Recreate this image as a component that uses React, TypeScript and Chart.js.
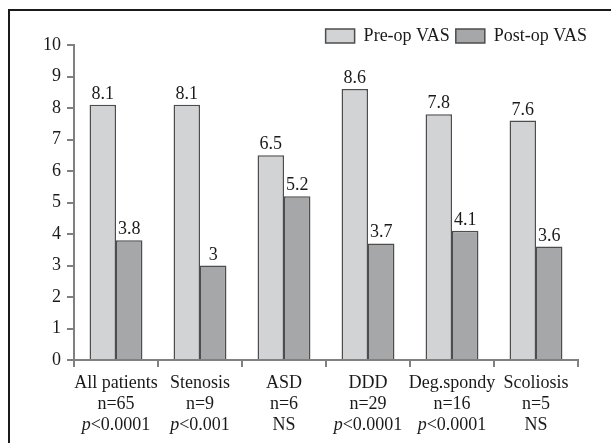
import React, { useEffect, useRef } from 'react';
import { Chart, registerables } from 'chart.js';

Chart.register(...registerables);

const categories = ['All patients', 'Stenosis', 'ASD', 'DDD', 'Deg.spondy', 'Scoliosis'];
const nCounts = ['n=65', 'n=9', 'n=6', 'n=29', 'n=16', 'n=5'];
const pValues = ['p<0.0001', 'p<0.001', 'NS', 'p<0.0001', 'p<0.0001', 'NS'];
const preOpVAS = [8.1, 8.1, 6.5, 8.6, 7.8, 7.6];
const postOpVAS = [3.8, 3.0, 5.2, 3.7, 4.1, 3.6];
const yTicks = [0, 1, 2, 3, 4, 5, 6, 7, 8, 9, 10];

const FONT = '"Liberation Serif", "Times New Roman", serif';
const TEXT = '#1a1a1a';
const AXIS = '#808080';

export default function App() {
  const ref = useRef<HTMLCanvasElement>(null);

  useEffect(() => {
    if (!ref.current) return;

    const valueLabels = {
      id: 'valueLabels',
      afterDatasetsDraw(chart: any) {
        const ctx = chart.ctx;
        ctx.save();
        ctx.font = `18px ${FONT}`;
        ctx.fillStyle = TEXT;
        ctx.textAlign = 'center';
        ctx.textBaseline = 'alphabetic';
        chart.data.datasets.forEach((ds: any, di: number) => {
          const meta = chart.getDatasetMeta(di);
          meta.data.forEach((bar: any, i: number) => {
            ctx.fillText(String(ds.data[i]), bar.x, bar.y - 6);
          });
        });
        ctx.restore();
      },
    };

    const xLabels = {
      id: 'xLabels',
      afterDraw(chart: any) {
        const ctx = chart.ctx;
        const xs = chart.scales.x;
        const normal = `18px ${FONT}`;
        const italic = `italic 18px ${FONT}`;
        ctx.save();
        ctx.fillStyle = TEXT;
        ctx.textBaseline = 'alphabetic';
        categories.forEach((cat, i) => {
          const x = xs.getPixelForValue(i);
          const base = xs.top + 28;
          ctx.font = normal;
          ctx.textAlign = 'center';
          ctx.fillText(cat, x, base);
          ctx.fillText(nCounts[i], x, base + 21);
          const p = pValues[i];
          const y3 = base + 42;
          if (p.startsWith('p')) {
            const rest = p.slice(1);
            ctx.font = italic;
            const wp = ctx.measureText('p').width;
            ctx.font = normal;
            const wr = ctx.measureText(rest).width;
            const start = x - (wp + wr) / 2;
            ctx.textAlign = 'left';
            ctx.font = italic;
            ctx.fillText('p', start, y3);
            ctx.font = normal;
            ctx.fillText(rest, start + wp, y3);
          } else {
            ctx.textAlign = 'center';
            ctx.fillText(p, x, y3);
          }
        });
        ctx.restore();
      },
    };

    const chart = new Chart(ref.current, {
      type: 'bar',
      data: {
        labels: categories,
        datasets: [
          {
            label: 'Pre-op VAS',
            data: preOpVAS,
            backgroundColor: '#d2d3d5',
            borderColor: '#4d4d4f',
            borderWidth: 1.5,
            barPercentage: 1,
            categoryPercentage: 0.63,
          },
          {
            label: 'Post-op VAS',
            data: postOpVAS,
            backgroundColor: '#a6a7a9',
            borderColor: '#4d4d4f',
            borderWidth: 1.5,
            barPercentage: 1,
            categoryPercentage: 0.63,
          },
        ],
      },
      options: {
        responsive: true,
        maintainAspectRatio: false,
        animation: false,
        layout: { padding: { top: 21, right: 18, left: 0, bottom: 0 } },
        plugins: {
          tooltip: { enabled: false },
          legend: {
            position: 'top',
            align: 'end',
            maxHeight: 24,
            labels: {
              boxWidth: 29,
              boxHeight: 14,
              padding: 6,
              color: TEXT,
              font: { family: FONT, size: 18 },
            },
          },
        },
        scales: {
          x: {
            grid: {
              display: true,
              drawOnChartArea: false,
              drawTicks: true,
              tickLength: 7,
              color: AXIS,
              lineWidth: 2,
              offset: true,
            },
            border: { display: true, color: AXIS, width: 2 },
            ticks: { callback: () => '', autoSkip: false },
            afterFit: (s: any) => {
              s.height = 83;
            },
          },
          y: {
            min: 0,
            max: 10,
            grid: {
              display: true,
              drawOnChartArea: false,
              drawTicks: true,
              tickLength: 7,
              color: AXIS,
              lineWidth: 2,
            },
            border: { display: true, color: AXIS, width: 2 },
            afterBuildTicks: (s: any) => {
              s.ticks = yTicks.map((v) => ({ value: v }));
            },
            ticks: {
              padding: 6,
              color: TEXT,
              font: { family: FONT, size: 18 },
            },
            afterFit: (s: any) => {
              s.width = 74;
            },
          },
          yRight: {
            type: 'linear',
            position: 'right',
            display: true,
            grid: { display: false, drawTicks: false },
            border: { display: false },
            ticks: { display: false },
            afterFit: (s: any) => {
              s.width = 15;
            },
          },
        },
      } as any,
      plugins: [valueLabels, xLabels],
    });

    return () => chart.destroy();
  }, []);

  return (
    <>
      <div
        style={{
          position: 'fixed',
          left: 8,
          top: 9,
          width: 700,
          height: 500,
          borderLeft: '2px solid #1a1a1a',
          borderTop: '2px solid #1a1a1a',
          pointerEvents: 'none',
        }}
      />
      <div style={{ position: 'fixed', left: 0, top: 0, width: 611, height: 443 }}>
        <canvas ref={ref} />
      </div>
    </>
  );
}
